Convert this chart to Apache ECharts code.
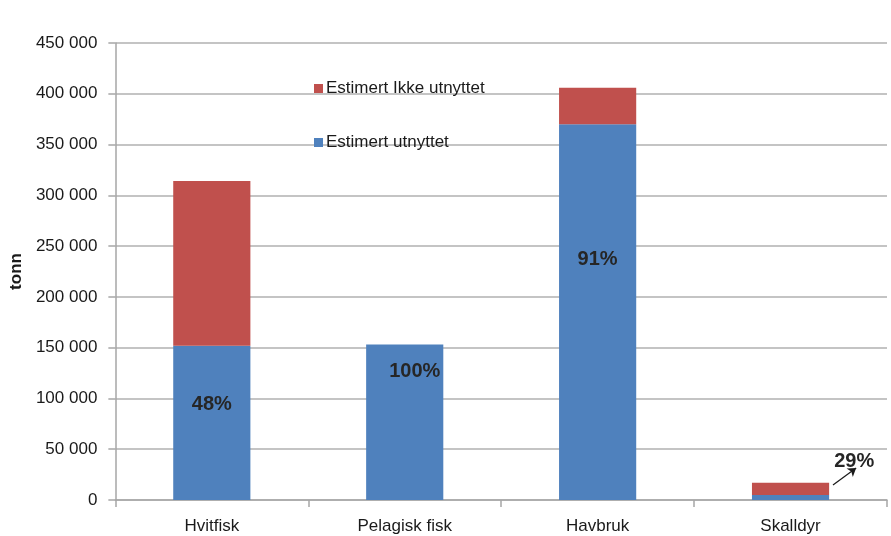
<!DOCTYPE html>
<html>
<head>
<meta charset="utf-8">
<script src="https://cdn.jsdelivr.net/npm/echarts@6/dist/echarts.min.js"></script>
<style>html,body{margin:0;padding:0;background:#fff}#c{width:891px;height:536px}</style>
</head>
<body>
<div id="c"></div>
<script>
var categories = ['Hvitfisk', 'Pelagisk fisk', 'Havbruk', 'Skalldyr'];
var utnyttet = [152000, 153000, 370000, 4900];
var ikkeUtnyttet = [162000, 0, 36000, 12100];
var percentLabels = ['48%', '100%', '91%', '29%'];
var yTicks = { min: 0, max: 450000, interval: 50000 };
var arrowFrom = [3.72, 14800];
var arrowTo = [3.84, 31500];
var pctPoint = [3.83, 38400];

var font = '"Liberation Sans", Arial, sans-serif';
var labelOffsets = [[0, -18], [10, -51], [0, -53], [0, 0]];

var chart = echarts.init(document.getElementById('c'));
chart.setOption({
  animation: false,
  textStyle: { fontFamily: font },
  grid: { left: 115, right: 4, top: 43, bottom: 36, containLabel: false },
  legend: {
    orient: 'vertical', left: 309, top: 75,
    itemWidth: 9, itemHeight: 9, itemGap: 37,
    icon: 'rect',
    textStyle: { fontSize: 17, color: '#1a1a1a', fontFamily: font, padding: [0, 0, 0, -2] },
    data: ['Estimert Ikke utnyttet', 'Estimert utnyttet']
  },
  xAxis: [{
    type: 'category', data: categories,
    axisLine: { lineStyle: { color: '#a6a6a6', width: 1.5 } },
    axisTick: { show: true, length: 7, lineStyle: { color: '#a6a6a6', width: 1.5 } },
    axisLabel: { fontSize: 17, color: '#1a1a1a', margin: 18, fontFamily: font }
  }, {
    type: 'value', min: 0, max: 4, show: false
  }],
  yAxis: {
    type: 'value', min: yTicks.min, max: yTicks.max, interval: yTicks.interval,
    name: 'tonn', nameLocation: 'middle', nameGap: 88,
    nameTextStyle: { fontSize: 17, fontWeight: 'bold', color: '#1a1a1a', fontFamily: font },
    axisLine: { show: true, lineStyle: { color: '#a6a6a6', width: 1.5 } },
    axisTick: { show: true, length: 7, lineStyle: { color: '#a6a6a6', width: 1.5 } },
    axisLabel: {
      fontSize: 17, color: '#1a1a1a', margin: 18, fontFamily: font,
      formatter: function (v) {
        var s = String(v);
        return s.length > 3 ? s.slice(0, s.length - 3) + ' ' + s.slice(-3) : s;
      }
    },
    splitLine: { lineStyle: { color: '#b0b0b0', width: 1.5 } }
  },
  series: [{
    name: 'Estimert utnyttet', type: 'bar', stack: 'a', barWidth: '40%',
    itemStyle: { color: '#4f81bd' },
    data: utnyttet.map(function (v, i) {
      return {
        value: v,
        label: {
          show: i < 3, position: 'inside', offset: labelOffsets[i],
          formatter: percentLabels[i], fontSize: 20, fontWeight: 'bold', color: '#262626', fontFamily: font
        }
      };
    })
  }, {
    name: 'Estimert Ikke utnyttet', type: 'bar', stack: 'a', barWidth: '40%',
    itemStyle: { color: '#c0504d' },
    data: ikkeUtnyttet
  }, {
    type: 'line', xAxisIndex: 1, data: [], silent: true,
    markLine: {
      silent: true, symbol: ['none', 'arrow'], symbolSize: 8,
      label: { show: false },
      lineStyle: { color: '#1a1a1a', width: 1.2, type: 'solid' },
      data: [[{ coord: arrowFrom }, { coord: arrowTo }]]
    },
    markPoint: {
      symbol: 'circle', symbolSize: 0,
      label: { show: true, formatter: percentLabels[3], fontSize: 20, fontWeight: 'bold', color: '#262626', position: 'inside', fontFamily: font },
      data: [{ coord: pctPoint }]
    }
  }]
});
</script>
</body>
</html>
